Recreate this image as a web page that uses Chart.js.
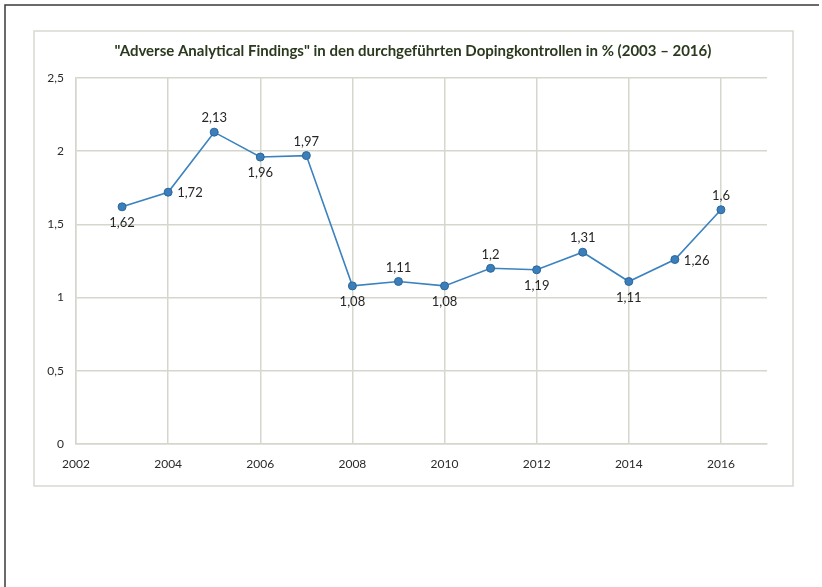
<!DOCTYPE html>
<html lang="de">
<head>
  <meta charset="UTF-8" />
  <title>Adverse Analytical Findings</title>
  <script src="https://cdn.jsdelivr.net/npm/chart.js"></script>
  <style>
    html, body { margin: 0; padding: 0; background: #fff; }
    #wrap { width: 822px; height: 587px; position: relative; }
  </style>
</head>
<body>
  <div id="wrap"><canvas id="afChart" width="822" height="587"></canvas></div>

  <script>
  const years = [2003, 2004, 2005, 2006, 2007, 2008, 2009, 2010, 2011, 2012, 2013, 2014, 2015, 2016];
  const findings = [1.62, 1.72, 2.13, 1.96, 1.97, 1.08, 1.11, 1.08, 1.2, 1.19, 1.31, 1.11, 1.26, 1.6];
  // wo die Beschriftung am Punkt steht
  const labelPos = ["below", "right", "above", "below", "above", "below", "above", "below", "above", "below", "above", "below", "right", "above"];
  const yTicks = [0, 0.5, 1, 1.5, 2, 2.5];
  const titleText = "\"Adverse Analytical Findings\" in den durchgeführten Dopingkontrollen in % (2003 – 2016)";

  const fontFam = "Lato, 'Open Sans', sans-serif";
  const gridColor = "#d5d7cd";
  const lineBlue = "#3b82bf";

  const fmt = v => String(v).replace(".", ",");

  // Rahmen der Seite, Kasten um das Diagramm und Titel (mittig im Kasten)
  const framePlugin = {
    id: "frame",
    beforeDraw(chart) {
      const c = chart.ctx;
      c.save();
      c.strokeStyle = "#3a3a3a";
      c.lineWidth = 1.5;
      c.beginPath();
      c.moveTo(5, 587);
      c.lineTo(5, 5);
      c.lineTo(819, 5);
      c.stroke();
      c.strokeStyle = "#d7d9cf";
      c.lineWidth = 1.5;
      c.strokeRect(34, 31, 759, 455);
      c.font = "bold 15px " + fontFam;
      c.fillStyle = "#2b3a1f";
      c.textAlign = "center";
      c.textBaseline = "middle";
      c.fillText(titleText, 413, 51);
      c.restore();
    }
  };

  // Werte an die Punkte schreiben
  const valueLabels = {
    id: "valueLabels",
    afterDatasetsDraw(chart) {
      const c = chart.ctx;
      const meta = chart.getDatasetMeta(0);
      c.save();
      c.font = "13px " + fontFam;
      c.fillStyle = "#262626";
      meta.data.forEach((pt, i) => {
        let x = pt.x, y = pt.y;
        const pos = labelPos[i];
        if (pos === "above") { c.textAlign = "center"; y -= 14; }
        else if (pos === "below") { c.textAlign = "center"; y += 16; }
        else { c.textAlign = "left"; x += 9; y += 1; }
        c.textBaseline = "middle";
        c.fillText(fmt(findings[i]), x, y);
      });
      c.restore();
    }
  };

  new Chart(document.getElementById("afChart"), {
    type: "line",
    data: {
      datasets: [{
        data: years.map((y, i) => ({ x: y, y: findings[i] })),
        borderColor: lineBlue,
        borderWidth: 1.6,
        pointBackgroundColor: "#3a7fbb",
        pointBorderColor: "#2c6697",
        pointBorderWidth: 1,
        pointRadius: 4,
        tension: 0
      }]
    },
    options: {
      responsive: false,
      animation: false,
      layout: { padding: { top: 78, right: 55, left: 0, bottom: 0 } },
      plugins: {
        legend: { display: false },
        tooltip: { enabled: false },
        title: { display: false }
      },
      scales: {
        x: {
          type: "linear",
          min: 2002,
          max: 2017,
          afterFit: s => { s.height = 143; },
          grid: { color: gridColor, lineWidth: 1.5, drawTicks: false },
          border: { color: gridColor, width: 1.5 },
          ticks: {
            stepSize: 2,
            includeBounds: false,
            padding: 13,
            color: "#2a2a2a",
            font: { family: fontFam, size: 12 },
            callback: v => String(v)
          }
        },
        y: {
          min: 0,
          max: 2.5,
          afterFit: s => { s.width = 76; },
          afterBuildTicks: s => { s.ticks = yTicks.map(v => ({ value: v })); },
          grid: { color: gridColor, lineWidth: 1.5, drawTicks: false },
          border: { color: gridColor, width: 1.5 },
          ticks: {
            padding: 12,
            color: "#2a2a2a",
            font: { family: fontFam, size: 12 },
            callback: v => fmt(v)
          }
        }
      }
    },
    plugins: [framePlugin, valueLabels]
  });
  </script>
</body>
</html>
